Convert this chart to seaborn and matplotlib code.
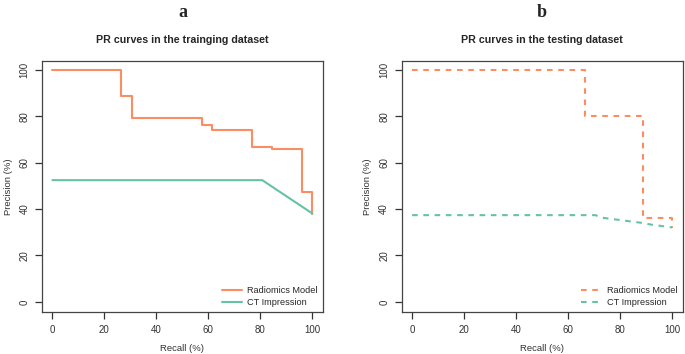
import matplotlib
matplotlib.use("Agg")
import matplotlib.pyplot as plt
import seaborn as sns
import pandas as pd

# PR curve vertices (recall %, precision %)
train_rad_recall = [0, 26.5, 26.5, 30.5, 30.5, 57.6, 57.6, 61.5, 61.5, 76.7, 76.7, 84.5, 84.5, 96.0, 96.0, 100, 100]
train_rad_precision = [100, 100, 88.9, 88.9, 79.2, 79.2, 76.3, 76.3, 74.1, 74.1, 66.8, 66.8, 65.9, 65.9, 47.2, 47.2, 38.1]
train_ct_recall = [0, 80.7, 100]
train_ct_precision = [52.5, 52.5, 38.1]

test_rad_recall = [0, 66.6, 66.6, 88.8, 88.8, 100, 100]
test_rad_precision = [100, 100, 80, 80, 36.0, 36.0, 32.0]
test_ct_recall = [0, 70.5, 73, 88.8, 92, 100]
test_ct_precision = [37.4, 37.4, 36.3, 34.0, 33.3, 32.1]

series_names = ["Radiomics Model", "CT Impression"]
panel_letters = ["a", "b"]
panel_titles = ["PR curves in the trainging dataset", "PR curves in the testing dataset"]
ticks = [0, 20, 40, 60, 80, 100]

colors = {"Radiomics Model": "#FC8D62", "CT Impression": "#66C2A5"}

sns.set_style("white")
plt.rcParams["font.family"] = ["Liberation Sans", "DejaVu Sans"]


def make_df(rad_r, rad_p, ct_r, ct_p):
    rows = []
    for r, p in zip(rad_r, rad_p):
        rows.append({"Recall": r, "Precision": p, "Model": series_names[0]})
    for r, p in zip(ct_r, ct_p):
        rows.append({"Recall": r, "Precision": p, "Model": series_names[1]})
    return pd.DataFrame(rows)


frames = [
    make_df(train_rad_recall, train_rad_precision, train_ct_recall, train_ct_precision),
    make_df(test_rad_recall, test_rad_precision, test_ct_recall, test_ct_precision),
]

fig = plt.figure(figsize=(6.85, 3.54), dpi=100)
positions = [[0.0613, 0.1186, 0.410, 0.709], [0.5864, 0.1186, 0.410, 0.709]]

for i, df in enumerate(frames):
    ax = fig.add_axes(positions[i])
    dashed = i == 1
    for name in series_names:
        sub = df[df["Model"] == name]
        sns.lineplot(data=sub, x="Recall", y="Precision", sort=False, estimator=None,
                     color=colors[name], lw=1.5, ax=ax, label=name,
                     linestyle=(0, (2.7, 2.7)) if dashed else "-")
    ax.set_xlim(-4, 104)
    ax.set_ylim(-4.4, 103.9)
    ax.set_xticks(ticks)
    ax.set_yticks(ticks)
    ax.set_xticklabels([str(t) for t in ticks], fontsize=7.0, color="#333333")
    ax.set_yticklabels([str(t) for t in ticks], fontsize=7.0, color="#333333",
                       rotation=90, va="center")
    ax.tick_params(axis="both", direction="out", length=5, width=0.9, color="#333333",
                   bottom=True, left=True, pad=4)
    for s in ax.spines.values():
        s.set_color("#444444")
        s.set_linewidth(0.9)
    ax.set_xlabel("Recall (%)", fontsize=6.8, color="#333333", labelpad=7)
    ax.set_ylabel("Precision (%)", fontsize=6.8, color="#333333", labelpad=5)
    ax.set_title(panel_titles[i], fontsize=7.7, fontweight="bold", pad=13)
    ax.legend(loc="lower right", frameon=False, fontsize=6.6, handlelength=2.2,
              handletextpad=0.6, labelspacing=0.3, borderaxespad=0.15)
    cx = (positions[i][0] + positions[i][2] / 2)
    fig.text(cx, 0.99, panel_letters[i], ha="center", va="top", fontsize=13,
             fontweight="bold", family="Liberation Serif")

fig.savefig("out.png", dpi=100)
